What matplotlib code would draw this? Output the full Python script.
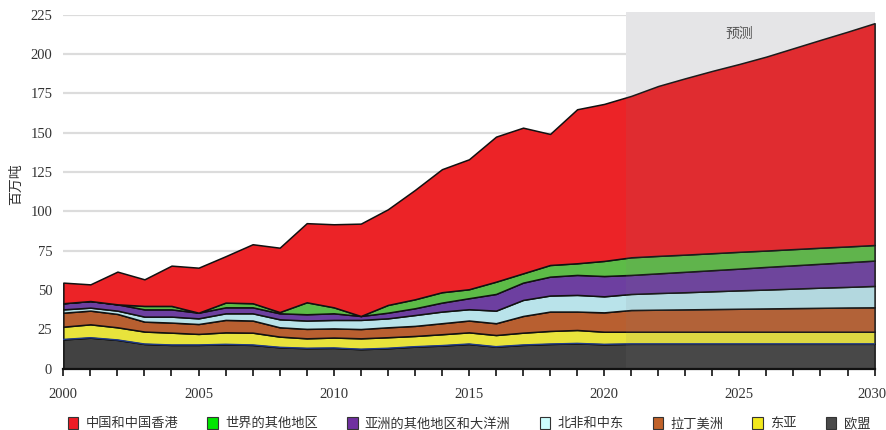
import matplotlib
matplotlib.use("Agg")
import matplotlib.pyplot as plt
from matplotlib.patches import Patch, Rectangle
from matplotlib.transforms import ScaledTranslation
import numpy as np

years = list(range(2000, 2031))

# individual series values (million tonnes), stacked bottom -> top
eu = [18.6, 19.7, 18.3, 15.7, 15.1, 15.1, 15.5, 15.1, 13.6, 13.0, 13.2,
      12.4, 13.0, 14.0, 14.7, 15.7, 14.0, 15.1, 15.7, 16.1, 15.5,
      15.8, 15.8, 15.8, 15.8, 15.8, 15.8, 15.8, 15.8, 15.8, 15.8]
east_asia = [8.1, 8.5, 8.0, 7.9, 7.8, 7.0, 7.6, 7.8, 6.8, 6.3, 6.6,
             6.9, 7.0, 6.8, 7.2, 7.4, 7.4, 7.8, 8.3, 8.5, 8.0,
             7.7, 7.7, 7.7, 7.7, 7.7, 7.7, 7.7, 7.7, 7.7, 7.7]
latin_america = [8.9, 8.7, 8.5, 6.3, 6.4, 6.3, 7.9, 7.7, 5.9, 6.0, 5.8,
                 5.9, 6.3, 6.4, 7.0, 7.5, 7.5, 10.6, 12.3, 11.7, 12.3,
                 13.8, 14.0, 14.2, 14.4, 14.6, 14.8, 15.0, 15.2, 15.4, 15.5]
mena = [2.1, 1.9, 2.1, 3.2, 3.8, 3.6, 4.2, 4.6, 5.1, 5.3, 5.4,
        5.8, 5.7, 6.9, 7.4, 7.2, 8.0, 10.2, 10.2, 10.6, 10.2,
        10.2, 10.6, 10.9, 11.3, 11.7, 12.0, 12.4, 12.8, 13.1, 13.6]
asia_oceania = [3.9, 4.2, 4.0, 4.6, 4.6, 3.6, 3.8, 3.8, 3.8, 4.0, 4.2,
                2.5, 3.6, 4.3, 5.7, 7.0, 10.6, 11.0, 12.0, 12.7, 12.9,
                12.1, 12.5, 13.0, 13.4, 13.8, 14.4, 14.8, 15.2, 15.7, 16.1]
rest_world = [0.0, 0.0, 0.0, 2.2, 2.2, 0.0, 3.0, 2.6, 0.8, 7.6, 3.8,
              0.0, 4.9, 5.7, 6.6, 5.7, 7.8, 5.9, 7.4, 7.4, 9.6,
              11.2, 11.1, 10.9, 10.8, 10.7, 10.4, 10.3, 10.2, 10.0, 9.9]
china_hk = [13.1, 10.6, 20.8, 16.9, 25.6, 28.6, 29.5, 37.5, 40.9, 50.3, 52.8,
            58.7, 60.8, 69.5, 78.2, 82.6, 92.2, 92.6, 83.3, 97.9, 99.8,
            102.6, 108.0, 112.1, 115.9, 119.4, 123.3, 127.7, 132.1, 136.5, 141.0]

series_bottom_up = [eu, east_asia, latin_america, mena, asia_oceania, rest_world, china_hk]
labels_bottom_up = ["欧盟", "东亚", "拉丁美洲", "北非和中东",
                    "亚洲的其他地区和大洋洲", "世界的其他地区", "中国和中国香港"]
area_colors = ["#424242", "#e8e33c", "#b85f30", "#b9e3ea",
               "#6d3fa0", "#5dbb47", "#ec2327"]
legend_colors = ["#4a4a4a", "#f2e81c", "#c0622a", "#ccffff",
                 "#7030a0", "#00e600", "#ee1c25"]

forecast_start = 2020.8
forecast_label = "预测"
y_label = "百万吨"
y_ticks = [0, 25, 50, 75, 100, 125, 150, 175, 200, 225]
x_major = [2000, 2005, 2010, 2015, 2020, 2025, 2030]

cjk = ["Noto Sans CJK SC", "DejaVu Sans"]
num_font = "Liberation Serif"

fig = plt.figure(figsize=(8.87, 4.30), dpi=100)
ax = fig.add_axes([0.0714, 0.1426, 0.9146, 0.8232])

ax.set_xlim(2000, 2030)
ax.set_ylim(0, 225)

for y in y_ticks:
    ax.axhline(y, color="#dcdcdc", lw=1.6, zorder=0)

# forecast background (behind the areas)
ax.add_patch(Rectangle((forecast_start, 0), 2030 - forecast_start, 226.5,
                       facecolor="#f1f1f3", edgecolor="none",
                       zorder=0.5, clip_on=False))

ax.stackplot(years, *series_bottom_up, colors=area_colors,
             edgecolor="#111111", linewidth=1.1, zorder=2)
# thin blue edge on top of EU layer
ax.plot(years, eu, color="#1f3a8a", lw=1.0, zorder=3)

# forecast overlay (slightly mutes the areas)
ax.add_patch(Rectangle((forecast_start, 0), 2030 - forecast_start, 226.5,
                       facecolor="#808080", alpha=0.1, edgecolor="none",
                       zorder=4, clip_on=False))
ax.text(2025.0, 213, forecast_label, ha="center", va="center",
        fontsize=10, color="#555555", family=cjk, zorder=5)

for s in ["top", "right", "left"]:
    ax.spines[s].set_visible(False)
ax.spines["bottom"].set_color("#111111")
ax.spines["bottom"].set_linewidth(1.6)
ax.spines["bottom"].set_zorder(6)

ax.set_yticks(y_ticks)
ax.set_yticklabels([str(v) for v in y_ticks], fontsize=10.5,
                   family=num_font, color="#333333")
ax.tick_params(axis="y", length=0, pad=8)

ax.set_xticks(x_major)
ax.set_xticks(years, minor=True)
ax.set_xticklabels([str(v) for v in x_major], fontsize=10.5,
                   family=num_font, color="#333333")
ax.tick_params(axis="x", which="both", direction="out", length=5,
               width=1.2, color="#111111", pad=9)
# nudge the last label so it stays inside the figure
last = ax.get_xticklabels()[-1]
last.set_transform(last.get_transform() + ScaledTranslation(-3 / 100, 0, fig.dpi_scale_trans))

ax.set_ylabel(y_label, fontsize=10, family=cjk, color="#333333", labelpad=4)
ax.yaxis.set_label_coords(-0.05, 0.52)

handles = [Patch(facecolor=c, edgecolor="#333333", linewidth=0.8)
           for c in legend_colors[::-1]]
leg = ax.legend(handles, labels_bottom_up[::-1], loc="center",
                bbox_to_anchor=(0.5, -0.155), ncol=7, frameon=False,
                prop={"family": cjk, "size": 9.5}, handlelength=0.8,
                handleheight=1.0, handletextpad=0.55, columnspacing=2.2)
for t in leg.get_texts():
    t.set_color("#333333")

fig.savefig("out.png", dpi=100)
